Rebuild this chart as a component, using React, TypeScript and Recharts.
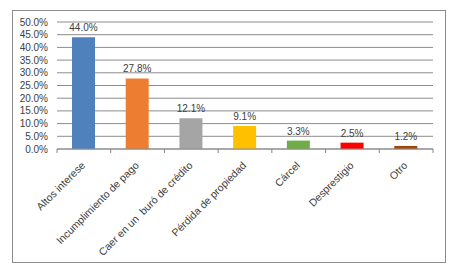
import React from "react";
import { BarChart, Bar, XAxis, YAxis, CartesianGrid, Cell, LabelList } from "recharts";

const categories = [
  "Altos interese",
  "Incumplimiento de pago",
  "Caer en un  buró de crédito",
  "Pérdida de propiedad",
  "Cárcel",
  "Desprestigio",
  "Otro",
];
const values = [44.0, 27.8, 12.1, 9.1, 3.3, 2.5, 1.2];
const colors = ["#4F81BD", "#ED7D31", "#A5A5A5", "#FFC000", "#70AD47", "#FF0000", "#9E480E"];
const yTicks = [0, 5, 10, 15, 20, 25, 30, 35, 40, 45, 50];

const data = categories.map((name, i) => ({ name, value: values[i] }));

const FONT = "'Liberation Sans', Arial, sans-serif";
const HALF_BAND = 376 / 7 / 2;

const XTick = (props: any) => {
  const { x, y, payload, index } = props;
  const last = index === categories.length - 1;
  const tx = x + 2;
  const ty = y + 17;
  return (
    <g>
      <line x1={x - HALF_BAND} y1={y} x2={x - HALF_BAND} y2={y + 4} stroke="#868686" />
      {last && <line x1={x + HALF_BAND} y1={y} x2={x + HALF_BAND} y2={y + 4} stroke="#868686" />}
      <text
        x={tx}
        y={ty}
        textAnchor="end"
        transform={`rotate(-45, ${tx}, ${ty})`}
        fontSize={10.5}
        fontFamily={FONT}
        fill="#404040"
        style={{ whiteSpace: "pre" }}
      >
        {payload.value}
      </text>
    </g>
  );
};

export default function App() {
  return (
    <div style={{ position: "absolute", left: 0, top: 0, width: 453, height: 267, background: "#fff" }}>
      <div
        style={{
          position: "absolute",
          left: 12,
          top: 10,
          width: 432,
          height: 251,
          border: "1px solid #8c8c8c",
        }}
      />
      <BarChart
        width={453}
        height={267}
        data={data}
        margin={{ top: 22, right: 20, bottom: 0, left: 12 }}
        style={{ position: "absolute", left: 0, top: 0 }}
      >
        <CartesianGrid vertical={false} stroke="#8c8c8c" strokeWidth={1} />
        <XAxis
          dataKey="name"
          interval={0}
          tickLine={false}
          tickSize={0}
          tickMargin={0}
          height={118}
          stroke="#8c8c8c"
          tick={<XTick />}
        />
        <YAxis
          domain={[0, 50]}
          ticks={yTicks}
          interval={0}
          width={45}
          axisLine={false}
          tickLine={false}
          tickSize={0}
          tickMargin={9}
          tickFormatter={(v: number) => `${v.toFixed(1)}%`}
          tick={{ fontSize: 10, fontFamily: FONT, fill: "#404040" }}
        />
        <Bar dataKey="value" barSize={23} isAnimationActive={false}>
          {data.map((d, i) => (
            <Cell key={d.name} fill={colors[i]} />
          ))}
          <LabelList
            dataKey="value"
            position="top"
            offset={6}
            formatter={(v: number) => `${v.toFixed(1)}%`}
            style={{ fontSize: 10, fontFamily: FONT, fill: "#404040" }}
          />
        </Bar>
      </BarChart>
    </div>
  );
}
